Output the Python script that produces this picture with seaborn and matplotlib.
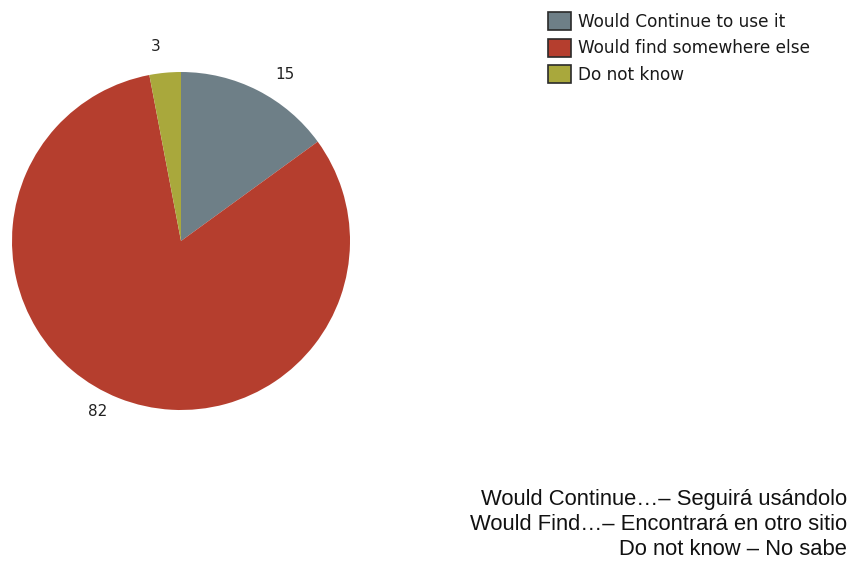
import matplotlib
matplotlib.use("Agg")
import matplotlib.pyplot as plt
from matplotlib.patches import Patch
import seaborn as sns

categories = ["Would Continue to use it", "Would find somewhere else", "Do not know"]
values = [15, 82, 3]
colors = ["#6e7f87", "#b53e2e", "#a9a83c"]
notes = [
    "Would Continue\u2026\u2013 Seguirá usándolo",
    "Would Find\u2026\u2013 Encontrará en otro sitio",
    "Do not know \u2013 No sabe",
]

sns.set_theme(style="white")
plt.rcParams["font.family"] = ["DejaVu Sans"]

W, H = 860, 568
fig = plt.figure(figsize=(W / 100, H / 100), dpi=100)
fig.patch.set_facecolor("white")

# pie axes: centre (181, 241) px, radius 169 px
cx, cy, r = 181, 241, 169
ax = fig.add_axes([(cx - r) / W, (H - cy - r) / H, 2 * r / W, 2 * r / H])
wedges, texts = ax.pie(
    values,
    labels=[str(v) for v in values],
    colors=colors,
    startangle=90,
    counterclock=False,
    labeldistance=1.1,
    wedgeprops=dict(linewidth=0),
    textprops=dict(fontsize=11, color="#222222"),
)
ax.set_xlim(-1, 1)
ax.set_ylim(-1, 1)
ax.set_aspect("equal")
ax.axis("off")

# small pixel nudges for the value labels (right, down), in wedge order
label_nudges = [(10, -1), (-5, -2), (-3, -9)]
for t, (dx, dy) in zip(texts, label_nudges):
    x, y = t.get_position()
    t.set_position((x + dx / r, y - dy / r))

handles = [Patch(facecolor=c, edgecolor="#2a2a2a", linewidth=1.2) for c in colors]
fig.legend(
    handles, categories,
    loc="upper left", bbox_to_anchor=(548 / W, 1 - 12.5 / H),
    frameon=False, fontsize=12.2, handlelength=1.36, handleheight=1.24,
    handletextpad=0.42, labelspacing=0.45, borderaxespad=0, borderpad=0,
    labelcolor="#1a1a1a",
)

for i, line in enumerate(notes):
    fig.text(847 / W, 1 - (505 + 25 * i) / H, line, ha="right", va="baseline",
             fontsize=15.8, family=["Liberation Sans"], color="#111111")

fig.savefig("out.png", dpi=100, facecolor="white")
